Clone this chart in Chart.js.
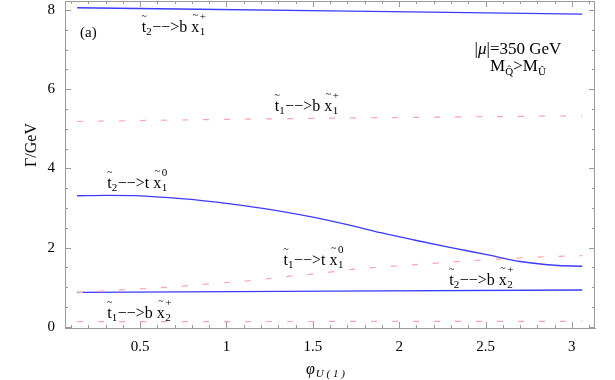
<!DOCTYPE html>
<html>
<head>
<meta charset="utf-8">
<script src="https://cdn.jsdelivr.net/npm/chart.js@4"></script>
<style>
  html, body { margin: 0; padding: 0; background: #fff; }
  #wrap { width: 615px; height: 380px; position: relative; }
</style>
</head>
<body>
<div id="wrap"><canvas id="chart"></canvas></div>
<script>
// --- Data ---
const phiFlat = [0.135, 1.6, 3.06];
const t2bChi1p = [8.06, 7.98, 7.90];
const t1bChi1p = [5.19, 5.27, 5.33];
const t2bChi2p = [0.87, 0.90, 0.93];
const t1bChi2p = [0.13, 0.135, 0.14];

const phiT2t = [0.135, 0.3, 0.5, 0.7, 0.9, 1.1, 1.3, 1.5, 1.7, 1.9, 2.1, 2.3, 2.5, 2.7, 2.9, 3.06];
const t2tChi10 = [3.31, 3.32, 3.31, 3.25, 3.17, 3.06, 2.93, 2.77, 2.58, 2.37, 2.18, 2.0, 1.83, 1.65, 1.555, 1.53];

const phiT1t = [0.135, 0.27, 0.46, 0.66, 0.89, 1.14, 1.37, 1.5, 1.73, 2.0, 2.25, 2.49, 2.74, 2.99, 3.06];
const t1tChi10 = [0.86, 0.90, 0.95, 1.00, 1.08, 1.17, 1.28, 1.33, 1.45, 1.54, 1.62, 1.69, 1.75, 1.79, 1.80];

const xTicks = [0.5, 1, 1.5, 2, 2.5, 3];
const yTicks = [0, 2, 4, 6, 8];

// decay labels: [phi, gamma, initial stop index, product quark, chargino/neutralino index, charge]
const decayLabels = [
    [0.51, 7.44, '2', 'b', '1', '+'],
    [1.28, 5.44, '1', 'b', '1', '+'],
    [0.31, 3.50, '2', 't', '1', '0'],
    [1.33, 1.56, '1', 't', '1', '0'],
    [2.29, 1.06, '2', 'b', '2', '+'],
    [0.31, 0.22, '1', 'b', '2', '+']
];

const BLUE = 'rgb(60,60,255)';
const PINK = 'rgb(255,165,170)';
const AXIS = '#9a9a9a';
const SERIF = '"Liberation Serif", "DejaVu Serif", serif';

function pts(xs, ys) {
    return xs.map((x, i) => ({ x: x, y: ys[i] }));
}

function solid(data) {
    return { data, borderColor: BLUE, borderWidth: 1.3, pointRadius: 0, cubicInterpolationMode: 'monotone', fill: false };
}

function dashed(data) {
    return { data, borderColor: PINK, borderWidth: 1.2, borderDash: [6, 15], pointRadius: 0, cubicInterpolationMode: 'monotone', fill: false };
}

// --- Frame with inward ticks on all four sides ---
const framePlugin = {
    id: 'frame',
    afterDraw(chart) {
        const ctx = chart.ctx;
        const a = chart.chartArea;
        const xs = chart.scales.x, ys = chart.scales.y;
        ctx.save();
        ctx.strokeStyle = AXIS;
        ctx.lineWidth = 1;
        ctx.strokeRect(a.left + 0.5, a.top + 0.5, a.right - a.left - 1, a.bottom - a.top);

        ctx.beginPath();
        for (let v = 0.1; v < 3.13; v += 0.1) {
            const px = Math.round(xs.getPixelForValue(v)) + 0.5;
            const major = Math.abs(v * 2 - Math.round(v * 2)) < 1e-6;
            const len = major ? 6 : 3;
            ctx.moveTo(px, a.bottom); ctx.lineTo(px, a.bottom - len);
            ctx.moveTo(px, a.top); ctx.lineTo(px, a.top + len);
        }
        for (let v = 0; v <= 8.2; v += 0.5) {
            const py = Math.round(ys.getPixelForValue(v)) + 0.5;
            const major = Math.abs(v / 2 - Math.round(v / 2)) < 1e-6;
            const len = major ? 6 : 3;
            ctx.moveTo(a.left, py); ctx.lineTo(a.left + len, py);
            ctx.moveTo(a.right, py); ctx.lineTo(a.right - len, py);
        }
        ctx.stroke();
        ctx.restore();
    }
};

// --- Text: decay labels, panel notes, axis titles ---
function drawDecay(ctx, x, y, iStop, quark, iChi, charge) {
    ctx.textBaseline = 'alphabetic';
    ctx.textAlign = 'left';
    ctx.font = '16px ' + SERIF;
    ctx.fillText('t', x, y);
    const tw = ctx.measureText('t').width;
    ctx.font = '10px ' + SERIF;
    ctx.fillText('~', x + tw / 2 - 2.5, y - 13);
    ctx.font = '11px ' + SERIF;
    ctx.fillText(iStop, x + tw, y + 3);
    let cx = x + tw + ctx.measureText(iStop).width + 0.5;
    ctx.font = '16px ' + SERIF;
    const arrow = '\u2212\u2212>' + quark + ' ';
    ctx.fillText(arrow, cx, y);
    cx += ctx.measureText(arrow).width;
    ctx.fillText('x', cx, y);
    const xw = ctx.measureText('x').width;
    ctx.font = '10px ' + SERIF;
    ctx.fillText('~', cx + xw / 2 - 2.5, y - 14);
    ctx.font = '11px ' + SERIF;
    ctx.fillText(charge, cx + xw + 0.5, y - 12);
    ctx.fillText(iChi, cx + xw + 0.5, y + 3);
}

const textPlugin = {
    id: 'texts',
    afterDraw(chart) {
        const ctx = chart.ctx;
        const xs = chart.scales.x, ys = chart.scales.y;
        ctx.save();
        ctx.fillStyle = '#000';

        decayLabels.forEach(l => {
            drawDecay(ctx, xs.getPixelForValue(l[0]), ys.getPixelForValue(l[1]), l[2], l[3], l[4], l[5]);
        });

        // panel tag
        ctx.font = '15px ' + SERIF;
        ctx.textAlign = 'left';
        ctx.fillText('(a)', xs.getPixelForValue(0.152), ys.getPixelForValue(7.33));

        // parameter note
        const nx = xs.getPixelForValue(2.688);
        let ny = ys.getPixelForValue(6.88);
        const p1 = '|', p2 = '\u03bc', p3 = '|=350 GeV';
        ctx.font = '17px ' + SERIF;
        const w1 = ctx.measureText(p1).width, w3 = ctx.measureText(p3).width;
        ctx.font = 'italic 17px ' + SERIF;
        const w2 = ctx.measureText(p2).width;
        let sx = nx - (w1 + w2 + w3) / 2;
        ctx.font = '17px ' + SERIF;
        ctx.fillText(p1, sx, ny);
        ctx.font = 'italic 17px ' + SERIF;
        ctx.fillText(p2, sx + w1, ny);
        ctx.font = '17px ' + SERIF;
        ctx.fillText(p3, sx + w1 + w2, ny);

        ny = ys.getPixelForValue(6.45);
        const parts = [['M', 17, 0], ['Q\u0302', 11, 4], ['>M', 17, 0], ['\u00db', 11, 4]];
        let total = 0;
        parts.forEach(p => { ctx.font = p[1] + 'px ' + SERIF; total += ctx.measureText(p[0]).width; });
        sx = nx - total / 2;
        parts.forEach(p => {
            ctx.font = p[1] + 'px ' + SERIF;
            ctx.fillText(p[0], sx, ny + p[2]);
            sx += ctx.measureText(p[0]).width;
        });

        // y title
        ctx.save();
        ctx.translate(36, 145);
        ctx.rotate(-Math.PI / 2);
        ctx.textAlign = 'center';
        ctx.font = '16px ' + SERIF;
        ctx.fillText('\u0393/GeV', 0, 0);
        ctx.restore();

        // x title
        ctx.textAlign = 'left';
        ctx.font = 'italic 16px ' + SERIF;
        ctx.fillText('\u03c6', 306, 374);
        const fw = ctx.measureText('\u03c6').width;
        ctx.font = 'italic 11px ' + SERIF;
        ctx.fillText('U ( 1 )', 306 + fw + 1, 377);

        ctx.restore();
    }
};

const ctx = document.getElementById('chart').getContext('2d');
new Chart(ctx, {
    type: 'line',
    data: {
        datasets: [
            solid(pts(phiFlat, t2bChi1p)),
            dashed(pts(phiFlat, t1bChi1p)),
            solid(pts(phiT2t, t2tChi10)),
            dashed(pts(phiT1t, t1tChi10)),
            solid(pts(phiFlat, t2bChi2p)),
            dashed(pts(phiFlat, t1bChi2p))
        ]
    },
    options: {
        responsive: true,
        maintainAspectRatio: false,
        animation: false,
        layout: { padding: { top: 1, right: 20, left: 0, bottom: 0 } },
        plugins: {
            legend: { display: false },
            tooltip: { enabled: false }
        },
        scales: {
            x: {
                type: 'linear',
                min: 0.065,
                max: 3.134,
                afterFit: s => { s.height = 52; s.paddingLeft = 0; s.paddingRight = 0; },
                afterBuildTicks: s => { s.ticks = xTicks.map(v => ({ value: v })); },
                grid: { display: false, drawTicks: false },
                border: { color: AXIS },
                ticks: {
                    color: '#000',
                    padding: 10,
                    maxRotation: 0,
                    font: { family: SERIF, size: 15 },
                    callback: v => String(v)
                }
            },
            y: {
                type: 'linear',
                min: -0.03,
                max: 8.23,
                afterFit: s => { s.width = 65; s.paddingTop = 0; s.paddingBottom = 0; },
                afterBuildTicks: s => { s.ticks = yTicks.map(v => ({ value: v })); },
                grid: { display: false, drawTicks: false },
                border: { color: AXIS },
                ticks: {
                    color: '#000',
                    padding: 10,
                    font: { family: SERIF, size: 15 },
                    callback: v => String(v)
                }
            }
        }
    },
    plugins: [framePlugin, textPlugin]
});
</script>
</body>
</html>
